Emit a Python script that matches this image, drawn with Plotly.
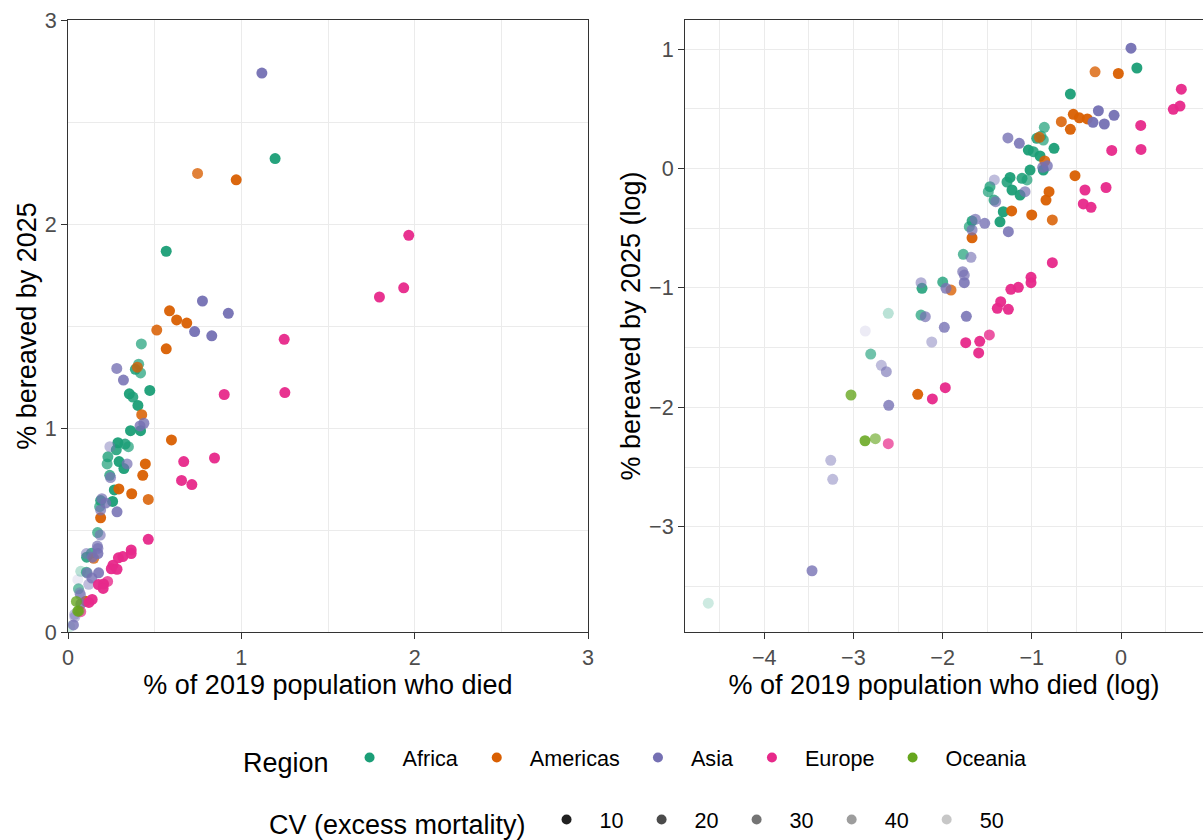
import numpy as np
import plotly.graph_objects as go

# ---- data: natural log of % of 2019 population who died (x) and
# % bereaved by 2025 (y), with CV of excess mortality, by region ----
africa_log_died = [-4.627, -2.806, -2.609, -2.242, -2.231, -1.999, -1.768, -1.670,
                   -1.701, -1.469, -1.488, -1.424, -1.320, -1.357, -1.278, -1.244,
                   -1.222, -1.132, -1.110, -1.054, -1.020, -1.039, -0.983, -0.908,
                   -0.945, -0.897, -0.871, -0.860, -0.751, -0.568, -0.871, 0.178]
africa_log_bereaved = [-3.641, -1.554, -1.213, -1.227, -1.003, -0.951, -0.719, -0.440,
                       -0.487, -0.152, -0.194, -0.264, -0.362, -0.446, -0.113, -0.075,
                       -0.180, -0.222, -0.082, -0.096, -0.013, 0.155, 0.141, 0.105,
                       0.253, 0.272, 0.239, 0.345, 0.169, 0.624, -0.013, 0.842]
africa_cv = [50, 25, 45, 20, 10, 15, 20, 10, 20, 15, 20, 15, 5, 5, 10, 5,
             5, 5, 10, 20, 5, 5, 10, 5, 10, 20, 20, 20, 5, 5, 5, 5]

americas_log_died = [-2.279, -1.906, -1.670, -1.226, -1.001, -0.770, -0.841, -0.807,
                     -0.516, -0.855, -0.916, -0.669, -0.568, -0.535, -0.467, -0.378,
                     -0.291, -0.030]
americas_log_bereaved = [-1.891, -1.018, -0.580, -0.355, -0.389, -0.431, -0.264, -0.194,
                         -0.060, 0.063, 0.261, 0.392, 0.328, 0.454, 0.425, 0.415,
                         0.810, 0.796]
americas_cv = [5, 15, 5, 5, 5, 10, 5, 5, 5, 10, 15, 10, 5, 5, 5, 5, 15, 5]

asia_log_died = [-3.464, -3.254, -3.232, -2.604, -2.687, -2.631, -2.867, -2.122,
                 -1.981, -2.194, -1.734, -2.242, -1.962, -1.775, -1.757, -1.757,
                 -1.682, -1.633, -1.528, -1.670, -1.420, -1.405, -1.263, -1.268,
                 -1.076, -1.140, -0.878, -0.826, -0.254, -0.314, -0.187, -0.078, 0.112]
asia_log_bereaved = [-3.369, -2.444, -2.603, -1.983, -1.648, -1.702, -1.361, -1.453,
                     -1.330, -1.241, -1.238, -0.956, -1.003, -0.864, -0.892, -0.956,
                     -0.744, -0.425, -0.459, -0.515, -0.096, -0.278, -0.529, 0.256,
                     -0.194, 0.211, 0.010, 0.023, 0.484, 0.387, 0.373, 0.446, 1.008]
asia_cv = [15, 35, 35, 15, 35, 25, 55, 35, 15, 20, 10, 30, 15, 20, 20, 10,
           25, 20, 15, 20, 35, 20, 10, 15, 20, 10, 15, 15, 5, 5, 5, 5, 5]

europe_log_died = [0.676, 0.586, 0.661, 0.221, -0.104, 0.224, -0.168, -0.404,
                   -0.423, -0.336, -0.770, -1.009, -1.009, -1.235, -1.151, -1.349,
                   -1.387, -1.263, -1.741, -1.584, -1.476, -1.596, -2.115, -1.970,
                   -2.609]
europe_log_bereaved = [0.665, 0.496, 0.523, 0.361, 0.152, 0.160, -0.159, -0.180,
                       -0.297, -0.325, -0.789, -0.911, -0.956, -1.012, -0.995, -1.116,
                       -1.171, -1.179, -1.459, -1.447, -1.394, -1.545, -1.930, -1.836,
                       -2.305]
europe_cv = [5, 5, 5, 5, 5, 5, 5, 5, 5, 5, 5, 5, 5, 5, 5, 5,
             5, 5, 5, 5, 15, 5, 5, 5, 20]

oceania_log_died = [-2.870, -2.754, -3.027]
oceania_log_bereaved = [-2.280, -2.263, -1.897]
oceania_cv = [10, 25, 15]

regions = ["Africa", "Americas", "Asia", "Europe", "Oceania"]
region_colors = ["#1B9E77", "#D95F02", "#7570B3", "#E7298A", "#66A61E"]
cv_levels = [10, 20, 30, 40, 50]

series = {
    "Africa": (africa_log_died, africa_log_bereaved, africa_cv),
    "Americas": (americas_log_died, americas_log_bereaved, americas_cv),
    "Asia": (asia_log_died, asia_log_bereaved, asia_cv),
    "Europe": (europe_log_died, europe_log_bereaved, europe_cv),
    "Oceania": (oceania_log_died, oceania_log_bereaved, oceania_cv),
}


def cv_alpha(cv):
    """Higher CV -> more transparent point."""
    cv = np.asarray(cv, dtype=float)
    return np.clip(0.87 - (cv - 10.0) * 0.01625, 0.1, 1.0)


FONT = "Liberation Sans, Arial, Helvetica, sans-serif"
W, H = 1203, 840
TITLE_SIZE = 27
TICK_SIZE = 21.6

fig = go.Figure()

for name, color in zip(regions, region_colors):
    lx, ly, cv = series[name]
    alpha = cv_alpha(cv)
    # linear panel
    fig.add_trace(go.Scatter(
        x=np.exp(lx), y=np.exp(ly), mode="markers",
        marker=dict(color=color, size=11, opacity=alpha, line=dict(width=0)),
        xaxis="x", yaxis="y", showlegend=False, hoverinfo="skip"))
    # log panel
    fig.add_trace(go.Scatter(
        x=lx, y=ly, mode="markers",
        marker=dict(color=color, size=11, opacity=alpha, line=dict(width=0)),
        xaxis="x2", yaxis="y2", showlegend=False, hoverinfo="skip"))

# legend entries: region colours
for name, color in zip(regions, region_colors):
    fig.add_trace(go.Scatter(
        x=[None], y=[None], mode="markers", name=name,
        marker=dict(color=color, size=10), legend="legend",
        xaxis="x", yaxis="y"))

# legend entries: CV transparency
for cv in cv_levels:
    fig.add_trace(go.Scatter(
        x=[None], y=[None], mode="markers", name=str(cv),
        marker=dict(color="black", size=10, opacity=float(cv_alpha([cv])[0])),
        legend="legend2", xaxis="x", yaxis="y"))

px2x = lambda p: p / W
px2y = lambda p: (H - p) / H

axis_common = dict(
    showgrid=True, gridcolor="#EBEBEB", gridwidth=1.4,
    zeroline=False, showline=True, linecolor="#333333", linewidth=1,
    ticks="outside", ticklen=6, tickcolor="#333333", tickwidth=1,
    tickfont=dict(family=FONT, size=TICK_SIZE, color="#4D4D4D"),
    minor=dict(dtick=0.5, showgrid=True, gridcolor="#EBEBEB", gridwidth=0.8),
    dtick=1,
)

legend_common = dict(
    orientation="h", xanchor="left", yanchor="middle",
    font=dict(family=FONT, size=TICK_SIZE, color="black"),
    bgcolor="rgba(0,0,0,0)", itemwidth=56,
)

fig.update_layout(
    width=W, height=H,
    margin=dict(l=0, r=0, t=0, b=0, autoexpand=False),
    paper_bgcolor="white", plot_bgcolor="white",
    font=dict(family=FONT, color="black"),
    xaxis=dict(**axis_common, domain=[px2x(68), px2x(588)], range=[0, 3],
               tick0=0, mirror=True, anchor="y",
               title=dict(text="% of 2019 population who died",
                          font=dict(size=TITLE_SIZE), standoff=4)),
    yaxis=dict(**axis_common, domain=[px2y(632), px2y(20)], range=[0, 3],
               tick0=0, mirror=True, anchor="x",
               title=dict(text="% bereaved by 2025", font=dict(size=TITLE_SIZE),
                          standoff=0)),
    xaxis2=dict(**axis_common, domain=[px2x(685), 1.0], range=[-4.888, 0.919],
                tick0=0, mirror=True, anchor="y2",
                title=dict(text="% of 2019 population who died (log)",
                           font=dict(size=TITLE_SIZE), standoff=4)),
    yaxis2=dict(**axis_common, domain=[px2y(632), px2y(20)], range=[-3.882, 1.244],
                tick0=0, mirror=False, anchor="x2",
                title=dict(text="% bereaved by 2025 (log)", font=dict(size=TITLE_SIZE),
                           standoff=0)),
    legend=dict(**legend_common, x=px2x(241), y=px2y(760),
                title=dict(text="Region", side="left",
                           font=dict(family=FONT, size=TITLE_SIZE))),
    legend2=dict(**legend_common, x=px2x(267), y=px2y(822),
                 title=dict(text="CV (excess mortality)", side="left",
                            font=dict(family=FONT, size=TITLE_SIZE))),
)

fig.write_html("out.html")
